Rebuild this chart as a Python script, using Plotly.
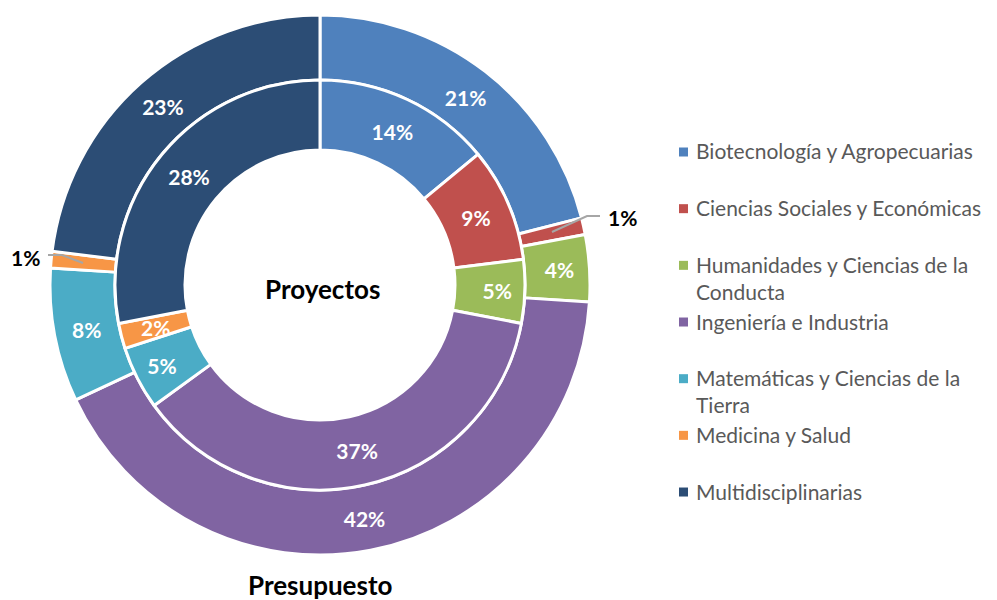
import math
import plotly.graph_objects as go

categories = [
    "Biotecnología y Agropecuarias",
    "Ciencias Sociales y Económicas",
    "Humanidades y Ciencias de la Conducta",
    "Ingeniería e Industria",
    "Matemáticas y Ciencias de la Tierra",
    "Medicina y Salud",
    "Multidisciplinarias",
]
legend_labels = [
    "Biotecnología y Agropecuarias",
    "Ciencias Sociales y Económicas",
    "Humanidades y Ciencias de la<br>Conducta",
    "Ingeniería e Industria",
    "Matemáticas y Ciencias de la<br>Tierra",
    "Medicina y Salud",
    "Multidisciplinarias",
]
presupuesto = [21, 1, 4, 42, 8, 1, 23]
proyectos = [14, 9, 5, 37, 5, 2, 28]
colors = ["#4F81BD", "#C0504D", "#9BBB59", "#8064A2", "#4BACC6", "#F79646", "#2C4D75"]

W, H = 997, 600
OFF = 8  # browser body margin
FONT = "Lato, 'Open Sans', sans-serif"
cx, cy = 320, 285
R_out, R_mid, R_in = 270, 205, 135
LBL = 21


def px_x(x):
    return (x - OFF) / W


def px_y(y):
    return 1 - (y - OFF) / H


fig = go.Figure()

# Outer ring: Presupuesto
fig.add_trace(go.Pie(
    labels=categories, values=presupuesto, sort=False, direction="clockwise", rotation=0,
    hole=R_mid / R_out,
    domain=dict(x=[px_x(cx - R_out), px_x(cx + R_out)], y=[px_y(cy + R_out), px_y(cy - R_out)]),
    marker=dict(colors=colors, line=dict(color="white", width=3)),
    texttemplate="%{percent:.0%}",
    textposition=["inside" if v >= 2 else "none" for v in presupuesto],
    insidetextorientation="horizontal",
    insidetextfont=dict(color="white", size=LBL, family=FONT, weight="bold"),
    showlegend=False, name="Presupuesto",
))

# Inner ring: Proyectos (tiny slices labelled by annotation below)
inner_small = [v <= 2 for v in proyectos]
fig.add_trace(go.Pie(
    labels=categories, values=proyectos, sort=False, direction="clockwise", rotation=0,
    hole=R_in / R_mid,
    domain=dict(x=[px_x(cx - R_mid), px_x(cx + R_mid)], y=[px_y(cy + R_mid), px_y(cy - R_mid)]),
    marker=dict(colors=colors, line=dict(color="white", width=3)),
    texttemplate="%{percent:.0%}",
    textposition=["none" if s else "inside" for s in inner_small],
    insidetextorientation="horizontal",
    insidetextfont=dict(color="white", size=LBL, family=FONT, weight="bold"),
    showlegend=False, name="Proyectos",
))

shapes = []
annotations = []

# Labels for tiny inner slices, placed at slice mid-angle
total_in = sum(proyectos)
cum = 0
for v, s in zip(proyectos, inner_small):
    mid = (cum + v / 2) / total_in * 2 * math.pi
    cum += v
    if s:
        r = (R_in + R_mid) / 2
        x = cx + r * math.sin(mid)
        y = cy - r * math.cos(mid)
        annotations.append(dict(x=px_x(x), y=px_y(y), xref="paper", yref="paper",
                                text=f"<b>{v}%</b>", showarrow=False,
                                xanchor="center", yanchor="middle",
                                font=dict(size=LBL, color="white", family=FONT)))

# Outside labels for the 1% slices with leader lines
label_pos = {1: ((587, 216), (600, 216), (552, 232), (606, 217), "left"),
             5: ((62, 255), (48, 255), (83, 263), (42, 257), "right")}
for i, (knee, end, start, tpos, anchor) in label_pos.items():
    shapes.append(dict(type="path", xref="paper", yref="paper",
                       path=f"M {px_x(start[0])},{px_y(start[1])} L {px_x(knee[0])},{px_y(knee[1])} L {px_x(end[0])},{px_y(end[1])}",
                       line=dict(color="#A6A6A6", width=2)))
    annotations.append(dict(x=px_x(tpos[0]), y=px_y(tpos[1]), xref="paper", yref="paper",
                            text=f"<b>{presupuesto[i]}%</b>", showarrow=False,
                            xanchor=anchor, yanchor="middle",
                            font=dict(size=LBL, color="black", family=FONT)))

# Titles
annotations.append(dict(x=px_x(322), y=px_y(289), xref="paper", yref="paper", text="<b>Proyectos</b>",
                        showarrow=False, xanchor="center", yanchor="middle",
                        font=dict(size=26, color="black", family=FONT)))
annotations.append(dict(x=px_x(320), y=px_y(585), xref="paper", yref="paper", text="<b>Presupuesto</b>",
                        showarrow=False, xanchor="center", yanchor="middle",
                        font=dict(size=26, color="black", family=FONT)))

# Custom legend
for i, (lab, col) in enumerate(zip(legend_labels, colors)):
    yc = 152 + i * 56.67
    shapes.append(dict(type="rect", xref="paper", yref="paper",
                       x0=px_x(679), x1=px_x(688), y0=px_y(yc + 4.5), y1=px_y(yc - 4.5),
                       fillcolor=col, line=dict(width=0)))
    annotations.append(dict(x=px_x(694), y=px_y(yc - 15.5), xref="paper", yref="paper", text=lab,
                            showarrow=False, xanchor="left", yanchor="top", align="left",
                            font=dict(size=21, color="#595959", family=FONT)))

fig.update_layout(
    width=W, height=H, margin=dict(l=0, r=0, t=0, b=0),
    paper_bgcolor="white", plot_bgcolor="white",
    shapes=shapes, annotations=annotations,
    font=dict(family=FONT),
)

fig.write_html("out.html")
